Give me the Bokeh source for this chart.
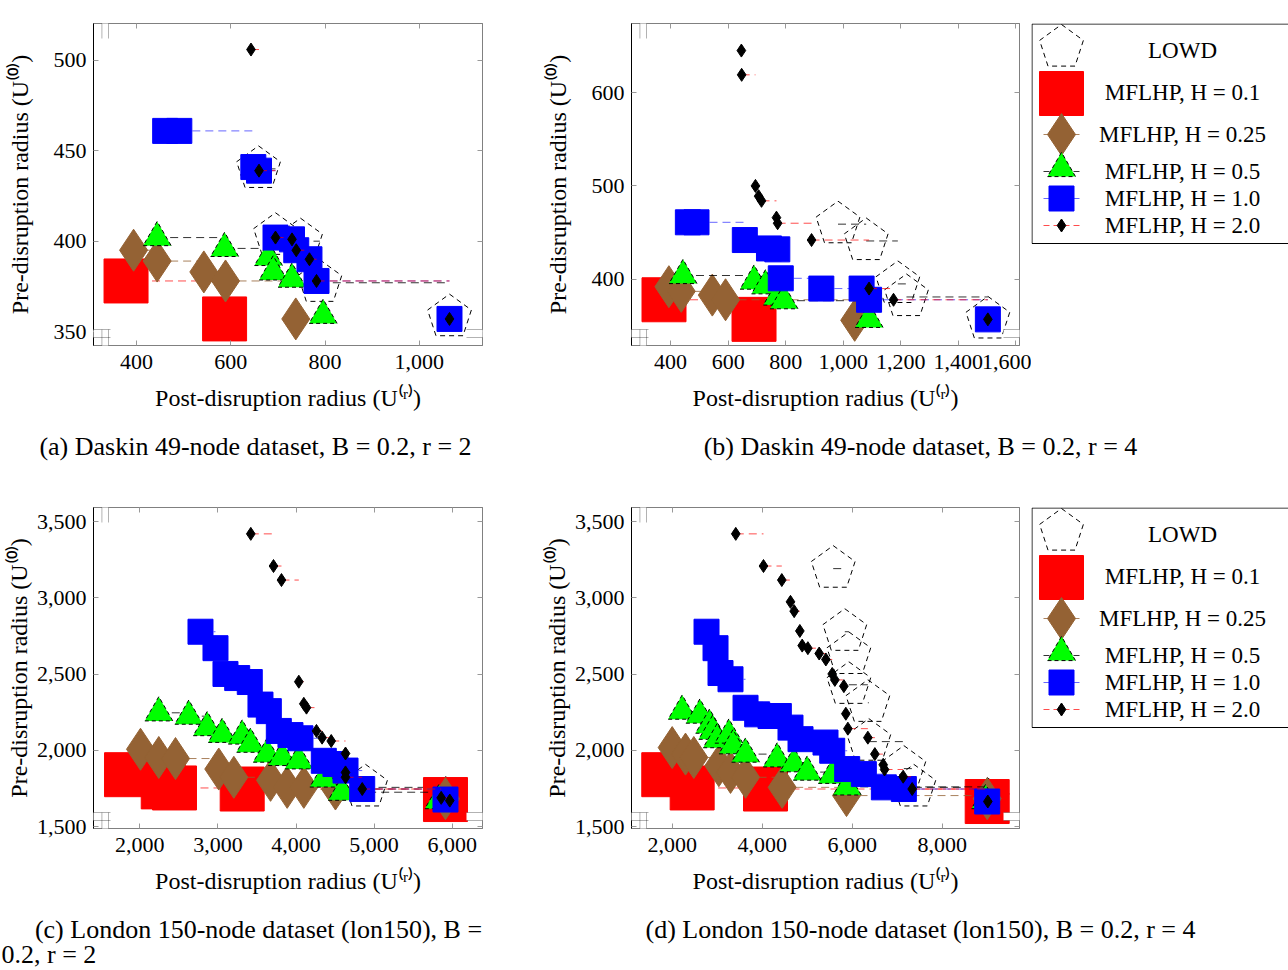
import numpy as np
from bokeh.plotting import figure
from bokeh.layouts import column, row
from bokeh.models import Range1d, FixedTicker, LinearAxis, NumeralTickFormatter, PolyAnnotation
from bokeh.core.properties import value
from bokeh.embed import file_html
from bokeh.resources import INLINE

FONT = "Liberation Serif"

# ---------------- data ----------------
# (a) Daskin 49-node dataset, B = 0.2, r = 2
a_lowd_x = [659, 695, 748, 789, 1064]
a_lowd_y = [440, 403, 400, 377, 358]
a_h01_x = [378, 587]
a_h01_y = [378, 357]
a_h025_x = [394, 444, 543, 589, 738]
a_h025_y = [395, 389, 383, 378, 357]
a_h05_x = [444, 587, 680, 690, 730, 796]
a_h05_y = [402, 396, 391, 383, 379, 359]
a_h1_x = [461, 491, 648, 660, 695, 730, 739, 767, 782, 1064]
a_h1_y = [461, 461, 441, 439, 402, 401, 395, 390, 378, 357]
a_h2_x = [643, 660, 695, 730, 739, 767, 782, 1064]
a_h2_y = [506, 439, 402, 401, 395, 390, 378, 357]

# (b) Daskin 49-node dataset, B = 0.2, r = 4
b_lowd_x = [982, 1080, 1190, 1220, 1503]
b_lowd_y = [459, 441, 395, 381, 357]
b_h01_x = [377, 690]
b_h01_y = [378, 357]
b_h025_x = [394, 437, 545, 591, 1040]
b_h025_y = [392, 387, 383, 378, 356]
b_h05_x = [443, 690, 730, 771, 794, 1090]
b_h05_y = [404, 398, 393, 381, 377, 357]
b_h1_x = [460, 490, 658, 742, 771, 783, 924, 1064, 1090, 1503]
b_h1_y = [461, 461, 442, 433, 432, 401, 390, 390, 378, 357]
b_h2_x = [646, 647, 695, 706, 716, 768, 772, 890, 1090, 1175, 1503]
b_h2_y = [645, 619, 500, 489, 484, 466, 460, 442, 390, 378, 357]

# (c) London 150-node dataset (lon150), B = 0.2, r = 2
c_lowd_x = [4890, 5914]
c_lowd_y = [1757, 1677]
c_h01_x = [1830, 2300, 2444, 3311, 5914]
c_h01_y = [1840, 1760, 1753, 1746, 1677]
c_h025_x = [2009, 2243, 2457, 3011, 3204, 3674, 3887, 4100, 4505, 5914]
c_h025_y = [2007, 1953, 1946, 1877, 1823, 1803, 1757, 1757, 1746, 1683]
c_h05_x = [2243, 2627, 2863, 3055, 3311, 3418, 3631, 3823, 4036, 4356, 4591, 5829]
c_h05_y = [2246, 2224, 2149, 2105, 2094, 2040, 1975, 1953, 1931, 1812, 1725, 1670]
c_h1_x = [2777, 2969, 3097, 3247, 3408, 3545, 3652, 3780, 3929, 4057, 4356, 4505, 4634, 4848, 5914]
c_h1_y = [2778, 2670, 2501, 2474, 2448, 2300, 2257, 2127, 2100, 2079, 1931, 1910, 1867, 1746, 1677]
c_h2_x = [3421, 3712, 3814, 4036, 4100, 4134, 4262, 4334, 4451, 4634, 4634, 4634, 4848, 5859, 5969]
c_h2_y = [3420, 3209, 3117, 2450, 2305, 2280, 2127, 2083, 2061, 1979, 1855, 1823, 1746, 1688, 1670]

# (d) London 150-node dataset (lon150), B = 0.2, r = 4
d_lowd_x = [5578, 5836, 5926, 5926, 6348, 6370, 7148, 7370, 9000]
d_lowd_y = [3192, 2778, 2626, 2430, 2312, 2057, 1880, 1757, 1670]
d_h01_x = [1813, 2444, 4074, 9000]
d_h01_y = [1840, 1753, 1746, 1664]
d_h025_x = [2000, 2296, 2481, 3037, 3296, 3630, 4444, 5874, 9000]
d_h025_y = [2018, 1975, 1953, 1899, 1855, 1823, 1757, 1703, 1683]
d_h05_x = [2222, 2615, 2830, 2900, 3000, 3259, 3350, 3630, 4333, 4704, 5000, 5556, 5889, 8963]
d_h05_y = [2257, 2231, 2165, 2125, 2070, 2100, 2030, 1975, 1944, 1912, 1857, 1836, 1760, 1670]
d_h1_x = [2763, 2963, 3074, 3296, 3630, 3889, 4185, 4370, 4629, 4852, 5407, 5556, 5889, 6259, 6704, 7148, 9000]
d_h1_y = [2778, 2670, 2507, 2466, 2279, 2236, 2225, 2225, 2149, 2073, 2051, 1997, 1877, 1844, 1757, 1746, 1664]
d_h2_x = [3413, 4029, 4436, 4629, 4711, 4837, 4889, 5015, 5267, 5415, 5556, 5615, 5815, 5859, 5904,
          6348, 6504, 6689, 6719, 7133, 7333, 9014]
d_h2_y = [3420, 3209, 3117, 2974, 2913, 2783, 2687, 2670, 2635, 2596, 2501, 2462, 2421, 2240, 2142,
          2083, 1975, 1905, 1874, 1827, 1746, 1664]

# axis ticks
a_xticks = [400, 600, 800, 1000]
a_yticks = [350, 400, 450, 500]
b_xticks = [400, 600, 800, 1000, 1200, 1400, 1600]
b_yticks = [400, 500, 600]
c_xticks = [2000, 3000, 4000, 5000, 6000]
c_yticks = [1500, 2000, 2500, 3000, 3500]
d_xticks = [2000, 4000, 6000, 8000]
d_yticks = [1500, 2000, 2500, 3000, 3500]

series_keys = ["LOWD", "H0.1", "H0.25", "H0.5", "H1.0", "H2.0"]
legend_labels = ["LOWD", "MFLHP, H = 0.1", "MFLHP, H = 0.25", "MFLHP, H = 0.5",
                 "MFLHP, H = 1.0", "MFLHP, H = 2.0"]

captions = ["(a) Daskin 49-node dataset, B = 0.2, r = 2",
            "(b) Daskin 49-node dataset, B = 0.2, r = 4",
            "(c) London 150-node dataset (lon150), B =",
            "0.2, r = 2",
            "(d) London 150-node dataset (lon150), B = 0.2, r = 4"]

# ---------------- styles ----------------
BROWN = "#946234"
STYLES = {
    "LOWD": dict(lc="black", la=0.8),
    "H0.1": dict(lc="red", la=0.7, marker="square", size=44, fc="red", mlc="red", mdash="solid"),
    "H0.25": dict(lc=BROWN, la=0.8, marker="diamond", size=42, fc=BROWN, mlc=BROWN, mdash="solid"),
    "H0.5": dict(lc="black", la=0.8, marker="triangle", size=28, fc="#00ff00", mlc="black", mdash="4 3"),
    "H1.0": dict(lc="blue", la=0.6, marker="square", size=25, fc="blue", mlc="blue", mdash="solid"),
    "H2.0": dict(lc="red", la=0.7, marker="diamond", size=13, fc="black", mlc="black", mdash="solid"),
}
PENT_R = 23
PENT_ANGLE = 0.0


def draw_pentagons(p, xs, ys, R):
    try:
        p.ngon(x=xs, y=ys, radius=R, radius_units="screen", n=5, angle=PENT_ANGLE,
               fill_color=None, line_color="black", line_dash="5 4", line_width=1)
    except Exception:
        p.scatter(xs, ys, marker="hex", size=2 * R, fill_color=None, line_color="black",
                  line_dash="5 4", line_width=1)


def draw_series(p, xs, ys, key):
    st = STYLES[key]
    # horizontal "jump" segments: from each point to the next point's x, at its own y
    if len(xs) > 1:
        p.segment(x0=xs[:-1], y0=ys[:-1], x1=xs[1:], y1=ys[:-1], line_color=st["lc"],
                  line_alpha=st["la"], line_dash="8 5", line_width=1)
    if key == "LOWD":
        draw_pentagons(p, xs, ys, PENT_R)
    else:
        p.scatter(xs, ys, marker=st["marker"], size=st["size"], fill_color=st["fc"],
                  line_color=st["mlc"], line_dash=st["mdash"], line_width=1)


def add_breaks(p, W, H):
    # axis discontinuity marks (screen units relative to the frame, y upwards)
    boxes = [
        ([8.4, 15, 15, 8.4], [H - 15, H - 15, H + 16, H + 16]),
        ([8.4, 15, 15, 8.4], [-17, -17, 16, 16]),
        ([-10, 17, 17, -10], [8, 8, 16, 16]),
        ([W - 16, W + 20, W + 20, W - 16], [8, 8, 16, 16]),
    ]
    for xs, ys in boxes:
        p.add_layout(PolyAnnotation(xs=xs, ys=ys, xs_units="screen", ys_units="screen",
                                    fill_color="white", fill_alpha=1.0, line_color=None,
                                    level="overlay"))
    lines = [
        ([8.4, 8.4], [H - 15, H + 16]), ([15, 15], [H - 15, H + 16]),
        ([8.4, 8.4], [-17, 16]), ([15, 15], [-17, 16]),
        ([-10, 17], [8, 8]), ([-10, 17], [16, 16]),
        ([W - 16, W + 20], [8, 8]), ([W - 16, W + 20], [16, 16]),
    ]
    for xs, ys in lines:
        p.add_layout(PolyAnnotation(xs=xs, ys=ys, xs_units="screen", ys_units="screen",
                                    fill_alpha=0, line_color="black", line_width=1,
                                    level="overlay"))


def make_panel(W, H, left, right, top, bottom, xr, yr, xticks, yticks, data, ylab_standoff):
    p = figure(width=W, height=H, x_range=Range1d(*xr), y_range=Range1d(*yr),
               output_backend="svg", toolbar_location=None,
               min_border_left=left, min_border_right=right,
               min_border_top=top, min_border_bottom=bottom)
    p.grid.visible = False
    p.background_fill_color = "white"
    p.border_fill_color = "white"
    p.outline_line_color = "#808080"
    fmt = NumeralTickFormatter(format="0,0")
    for ax in (p.xaxis[0], p.yaxis[0]):
        ax.formatter = fmt
        ax.major_tick_in = 5
        ax.major_tick_out = 0
        ax.minor_tick_line_color = None
        ax.major_tick_line_color = "#999999"
        ax.major_label_text_font = FONT
        ax.major_label_text_font_size = "22px"
        ax.major_label_text_color = "black"
        ax.axis_label_text_font = FONT
        ax.axis_label_text_font_size = "24px"
        ax.axis_label_text_font_style = "normal"
        ax.axis_label_text_color = "black"
    p.xaxis.ticker = FixedTicker(ticks=xticks)
    p.yaxis.ticker = FixedTicker(ticks=yticks)
    p.xaxis.axis_line_color = "#808080"
    p.yaxis.axis_line_color = "black"
    p.xaxis.axis_label = "Post-disruption radius (U⁽ʳ⁾)"
    p.yaxis.axis_label = "Pre-disruption radius (U⁽⁰⁾)"
    p.xaxis.major_label_standoff = 9
    p.xaxis.axis_label_standoff = 13
    p.yaxis.major_label_standoff = 7
    p.yaxis.axis_label_standoff = ylab_standoff
    for side, tk in (("above", xticks), ("right", yticks)):
        ax = LinearAxis(ticker=FixedTicker(ticks=tk), major_tick_in=5, major_tick_out=0,
                        minor_tick_line_color=None, major_tick_line_color="#999999",
                        axis_line_color="#808080", major_label_text_font_size="0px",
                        major_label_text_alpha=0, major_label_standoff=0)
        p.add_layout(ax, side)
    for key, (xs, ys) in zip(series_keys, data):
        draw_series(p, xs, ys, key)
    add_breaks(p, W - left - right, H - top - bottom)
    return p


def make_legend(H, top, bottom):
    fh = H - top - bottom  # frame height, aligned with the panels of the same row
    lg = figure(width=257, height=H, x_range=Range1d(0, 257), y_range=Range1d(fh, 0),
                output_backend="svg", toolbar_location=None, x_axis_type=None, y_axis_type=None,
                min_border_left=0, min_border_right=0, min_border_top=top,
                min_border_bottom=bottom)
    lg.grid.visible = False
    lg.outline_line_color = None
    lg.background_fill_color = "white"
    lg.quad(left=[0.5], right=[262], top=[0.5], bottom=[220], fill_color=None,
            line_color="black", line_width=1)
    glyph_y = [24, 70, 111, 145, 175, 202]
    text_y = [27, 69, 111, 148, 175, 202]
    for key, gy in zip(series_keys, glyph_y):
        st = STYLES[key]
        if key != "LOWD":
            ly = gy + (3 if key == "H0.5" else 0)
            lg.segment(x0=[12], y0=[ly], x1=[48], y1=[ly], line_color=st["lc"],
                       line_alpha=st["la"], line_dash=("solid" if key == "H1.0" else "6 4"),
                       line_width=1)
    for key, gy in zip(series_keys, glyph_y):
        st = STYLES[key]
        if key == "LOWD":
            draw_pentagons(lg, [30], [gy], PENT_R)
        else:
            lg.scatter([30], [gy], marker=st["marker"], size=st["size"], fill_color=st["fc"],
                       line_color=st["mlc"], line_dash=st["mdash"], line_width=1)
    lg.text(x=[151] * 6, y=text_y, text=legend_labels, text_font=value(FONT),
            text_font_size="23px", text_align="center", text_baseline="middle",
            text_color="black")
    return lg


def make_caption(W, Hc, items):
    c = figure(width=W, height=Hc, x_range=Range1d(0, W), y_range=Range1d(Hc, 0),
               output_backend="svg", toolbar_location=None, x_axis_type=None, y_axis_type=None,
               min_border=0, min_border_left=0, min_border_right=0, min_border_top=0,
               min_border_bottom=0)
    c.grid.visible = False
    c.outline_line_color = None
    for x, y, t, al in items:
        c.text(x=[x], y=[y], text=[t], text_font=value(FONT), text_font_size="26px",
               text_align=al, text_baseline="middle", text_color="black")
    return c


fa = make_panel(540, 430, 93, 58, 23, 85, (309, 1134), (342.3, 520.4), a_xticks, a_yticks,
                [(a_lowd_x, a_lowd_y), (a_h01_x, a_h01_y), (a_h025_x, a_h025_y),
                 (a_h05_x, a_h05_y), (a_h1_x, a_h1_y), (a_h2_x, a_h2_y)], 18)
fb = make_panel(491, 430, 91, 12, 23, 85, (264, 1613), (329, 674), b_xticks, b_yticks,
                [(b_lowd_x, b_lowd_y), (b_h01_x, b_h01_y), (b_h025_x, b_h025_y),
                 (b_h05_x, b_h05_y), (b_h1_x, b_h1_y), (b_h2_x, b_h2_y)], 18)
fc = make_panel(540, 425, 93, 58, 22, 82, (1407, 6388), (1487, 3593), c_xticks, c_yticks,
                [(c_lowd_x, c_lowd_y), (c_h01_x, c_h01_y), (c_h025_x, c_h025_y),
                 (c_h05_x, c_h05_y), (c_h1_x, c_h1_y), (c_h2_x, c_h2_y)], 2)
fd = make_panel(491, 425, 91, 12, 22, 82, (1096, 9718), (1487, 3593), d_xticks, d_yticks,
                [(d_lowd_x, d_lowd_y), (d_h01_x, d_h01_y), (d_h025_x, d_h025_y),
                 (d_h05_x, d_h05_y), (d_h1_x, d_h1_y), (d_h2_x, d_h2_y)], 2)
la = make_legend(430, 23, 85)
ld = make_legend(425, 22, 82)

capA = make_caption(540, 55, [(255, 16, captions[0], "center")])
capB = make_caption(748, 55, [(380, 16, captions[1], "center")])
capC = make_caption(540, 60, [(258, 19, captions[2], "center"), (1, 44, captions[3], "left")])
capD = make_caption(748, 60, [(380, 19, captions[4], "center")])

layout = column(row(fa, fb, la), row(capA, capB), row(fc, fd, ld), row(capC, capD))

with open("out.html", "w") as f:
    f.write(file_html(layout, INLINE))
